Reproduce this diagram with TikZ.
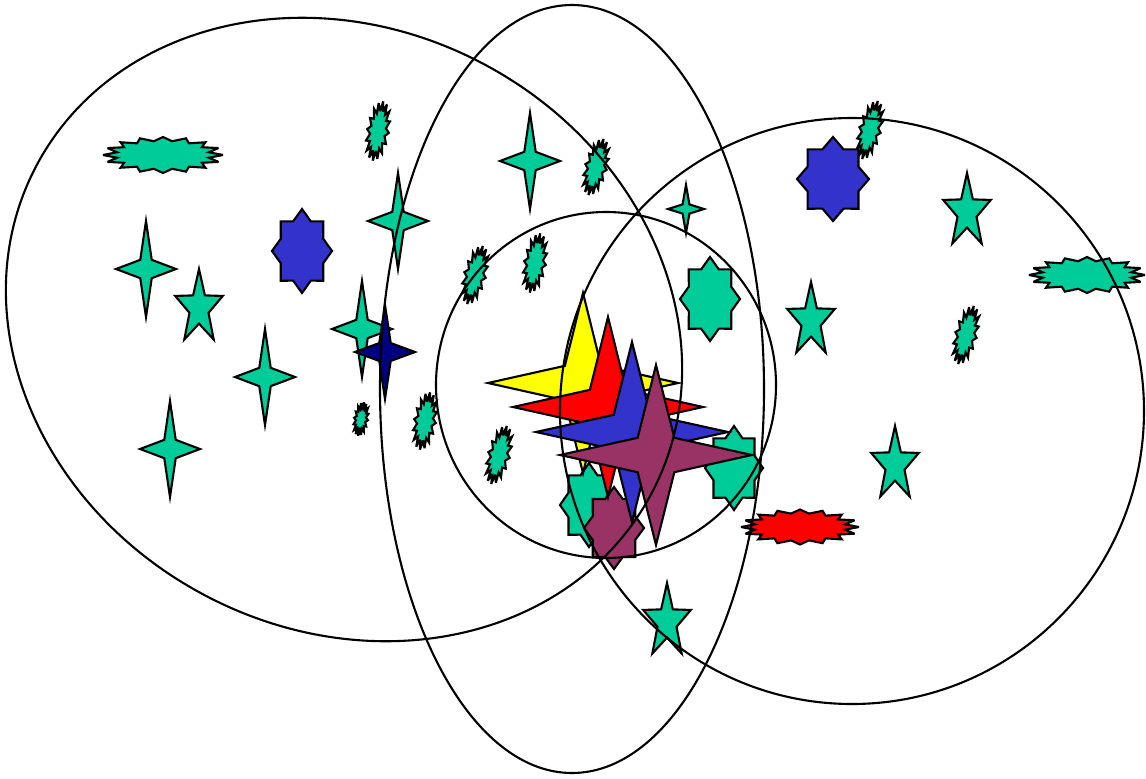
\documentclass[tikz,border=0pt]{standalone}
\usepackage{tikz}
\definecolor{vnTeal}{RGB}{0,204,153}
\definecolor{vnBlue}{RGB}{51,51,204}
\definecolor{vnNavy}{RGB}{0,0,128}
\definecolor{vnRed}{RGB}{255,0,0}
\definecolor{vnYellow}{RGB}{255,255,0}
\definecolor{vnPlum}{RGB}{153,51,102}
\tikzset{
  outl/.style={draw=black, line width=1.2pt, line join=miter},
  ring/.style={draw=black, line width=1.2pt}
}
% x, y, half width, half height, fill
\newcommand{\drawsparkle}[5]{%
  \filldraw[outl, fill=#5, shift={(#1,#2)}, xscale=#3, yscale=#4]
    (0:1) \foreach \k in {1,...,4} { -- (\k*90-45:0.27) -- (\k*90:1) } -- cycle;}
\newcommand{\drawpent}[5]{%
  \filldraw[outl, fill=#5, shift={(#1,#2)}, xscale=#3, yscale=#4]
    (90:1) \foreach \k in {1,...,5} { -- (90+\k*72-36:0.4) -- (90+\k*72:1) } -- cycle;}
\newcommand{\drawoct}[5]{%
  \filldraw[outl, fill=#5, shift={(#1,#2)}, xscale=#3, yscale=#4]
    (0:1) \foreach \k in {1,...,8} { -- (\k*45-22.5:0.765) -- (\k*45:1) } -- cycle;}
% x, y, half length, half width, angle, inner ratio, fill
\newcommand{\drawseal}[7]{%
  \filldraw[outl, miter limit=4, fill=#7, shift={(#1,#2)}, rotate=#5, xscale=#3, yscale=#4]
    (0:1) \foreach \k in {1,...,16} { -- (\k*22.5-11.25:#6) -- (\k*22.5:1) } -- cycle;}

\begin{document}
\begin{tikzpicture}[x=0.02cm, y=0.02cm]
  \useasboundingbox (0,0) rectangle (1146,-778);

  % wide seals
  \drawseal{163}{-155}{60}{18}{0}{0.78}{vnTeal}
  \drawseal{1087}{-275}{58}{18}{0}{0.78}{vnTeal}
  \drawseal{800}{-527}{59}{17.5}{0}{0.78}{vnRed}

  % small jagged seals
  \drawseal{378}{-131}{30}{11}{80}{0.68}{vnTeal}
  \drawseal{596}{-167}{29}{11}{75}{0.68}{vnTeal}
  \drawseal{870}{-130}{30}{11}{75}{0.68}{vnTeal}
  \drawseal{475}{-275}{30}{11}{75}{0.68}{vnTeal}
  \drawseal{535}{-263}{30}{11}{80}{0.68}{vnTeal}
  \drawseal{966}{-335}{30}{11}{75}{0.68}{vnTeal}
  \drawseal{425}{-421}{29}{11}{80}{0.68}{vnTeal}
  \drawseal{499}{-455}{30}{11}{75}{0.68}{vnTeal}
  \drawseal{361}{-419}{17}{7}{80}{0.68}{vnTeal}

  % five-point stars
  \drawpent{199}{-308}{25}{39}{vnTeal}
  \drawpent{967}{-212}{25}{39}{vnTeal}
  \drawpent{811}{-321}{25}{39}{vnTeal}
  \drawpent{895}{-465}{25}{39}{vnTeal}
  \drawpent{667}{-622}{25}{39}{vnTeal}

  % eight-point stars
  \drawoct{302}{-251}{30}{42}{vnBlue}
  \drawoct{833}{-179}{36}{42}{vnBlue}
  \drawoct{710}{-299}{30}{42}{vnTeal}
  \drawoct{734}{-468}{29}{42}{vnTeal}
  \drawoct{589}{-505}{29}{42}{vnTeal}
  \drawoct{614}{-528}{30}{41}{vnPlum}

  % four-point stars
  \drawsparkle{146}{-269}{30}{48}{vnTeal}
  \drawsparkle{530}{-161}{30}{48}{vnTeal}
  \drawsparkle{398}{-221}{30}{48}{vnTeal}
  \drawsparkle{265}{-377}{30}{48}{vnTeal}
  \drawsparkle{170}{-449}{30}{48}{vnTeal}
  \drawsparkle{362}{-329}{30}{48}{vnTeal}
  \drawsparkle{385}{-352}{30}{47}{vnNavy}
  \drawsparkle{686}{-209}{18}{24}{vnTeal}
  \drawsparkle{583}{-383}{95}{90}{vnYellow}
  \drawsparkle{608}{-407}{95}{90}{vnRed}
  \drawsparkle{632}{-432}{96}{90}{vnBlue}
  \drawsparkle{656}{-455}{96}{90}{vnPlum}

  % outlines
  \draw[ring, shift={(344,-329.5)}, rotate=-28.5] (0,0) ellipse [x radius=348.5, y radius=300];
  \draw[ring] (572,-389) ellipse [x radius=192, y radius=384];
  \draw[ring] (852,-411) ellipse [x radius=292, y radius=293];
  \draw[ring] (606,-385) ellipse [x radius=170, y radius=173];
\end{tikzpicture}
\end{document}
